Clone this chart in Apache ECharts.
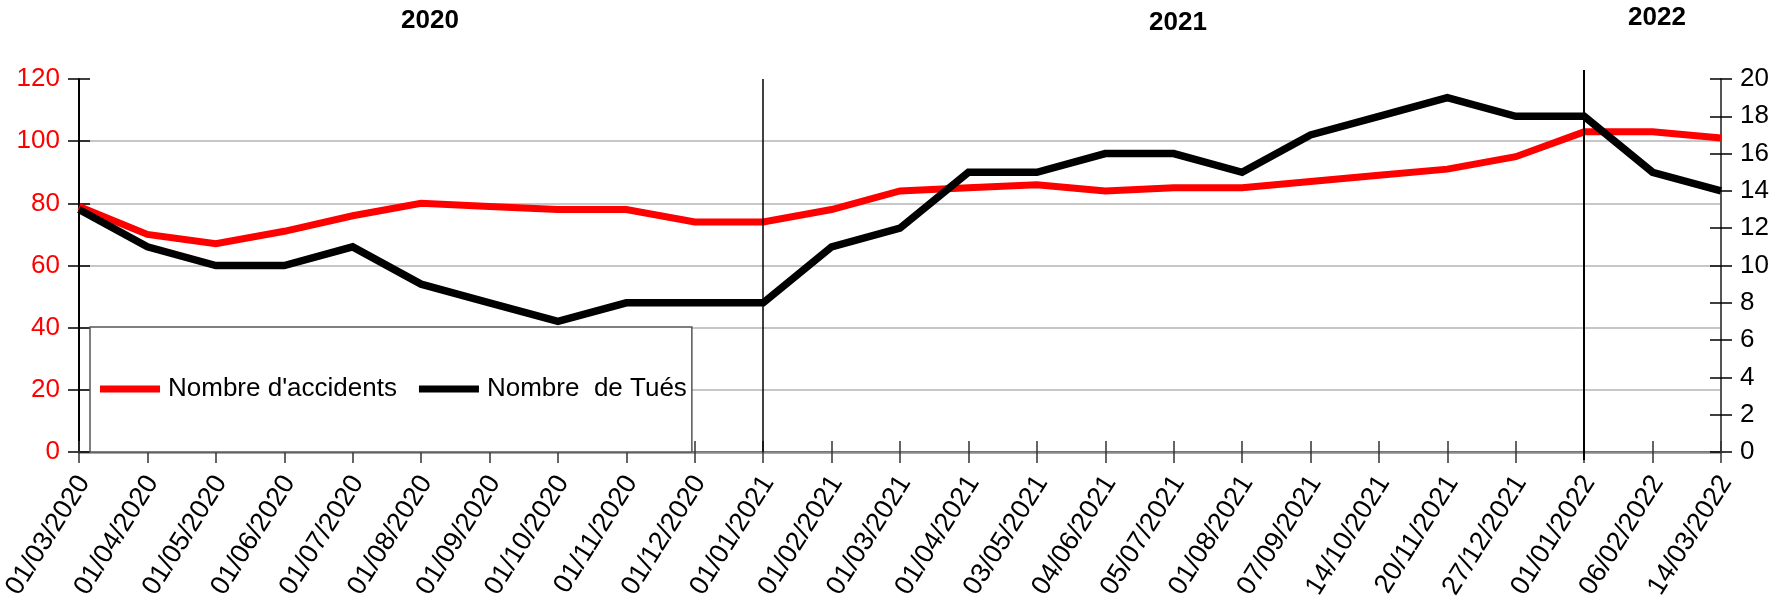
<!DOCTYPE html>
<html>
<head>
<meta charset="utf-8">
<script src="https://cdn.jsdelivr.net/npm/echarts@6/dist/echarts.min.js"></script>
<style>
html,body{margin:0;padding:0;background:#fff;}
#chart{width:1773px;height:597px;}
</style>
</head>
<body>
<div id="chart"></div>
<script>
const categories = ['01/03/2020','01/04/2020','01/05/2020','01/06/2020','01/07/2020','01/08/2020','01/09/2020','01/10/2020','01/11/2020','01/12/2020','01/01/2021','01/02/2021','01/03/2021','01/04/2021','03/05/2021','04/06/2021','05/07/2021','01/08/2021','07/09/2021','14/10/2021','20/11/2021','27/12/2021','01/01/2022','06/02/2022','14/03/2022'];
const accidents = [79,70,67,71,76,80,79,78,78,74,74,78,84,85,86,84,85,85,87,89,91,95,103,103,101];
const tues = [13,11,10,10,11,9,8,7,8,8,8,11,12,15,15,16,16,15,17,18,19,18,18,15,14];
const seriesNames = ["Nombre d'accidents", 'Nombre  de Tués'];
const yearLabels = ['2020','2021','2022'];
const yearMarkers = ['01/01/2021','01/01/2022'];

const FONT = "'Liberation Sans', Arial, sans-serif";
const chart = echarts.init(document.getElementById('chart'), null, {renderer:'canvas'});

const option = {
  animation: false,
  backgroundColor: '#fff',
  textStyle: {fontFamily: FONT},
  grid: [
    {left: 79, right: 52, top: 79, bottom: 145, containLabel: false, outerBoundsMode: 'none'},
    {left: 79, right: 52, top: 70, bottom: 137, containLabel: false, outerBoundsMode: 'none'},
    {left: 84, right: 47, top: 79, bottom: 145, containLabel: false, outerBoundsMode: 'none'}
  ],
  graphic: [
    {type:'text', left: 401, top: 8, style:{text: yearLabels[0], font: 'bold 26px ' + FONT, fill:'#000'}},
    {type:'text', left: 1149, top: 10, style:{text: yearLabels[1], font: 'bold 26px ' + FONT, fill:'#000'}},
    {type:'text', left: 1628, top: 5, style:{text: yearLabels[2], font: 'bold 26px ' + FONT, fill:'#000'}}
  ],
  legend: {
    left: 90, top: 327,
    orient: 'horizontal',
    padding: [49, 5, 50, 10],
    backgroundColor: '#fff',
    borderColor: '#555',
    borderWidth: 1.5,
    borderRadius: 0,
    itemWidth: 60, itemHeight: 7, itemGap: 22,
    icon: 'rect',
    textStyle: {fontFamily: FONT, fontSize: 26, color: '#000', lineHeight: 26, padding: [0,0,0,3]},
    data: seriesNames,
    z: 10
  },
  xAxis: [
    {
      type: 'category', data: categories, boundaryGap: false, position: 'bottom', gridIndex: 0,
      axisLine: {show: true, lineStyle: {color: '#333', width: 2}},
      axisTick: {show: true, interval: 0, inside: false, length: 11, lineStyle: {color: '#333', width: 1.5}},
      axisLabel: {show: false, interval: 0},
      splitLine: {show: false}
    },
    {
      type: 'category', data: categories, boundaryGap: false, position: 'bottom', gridIndex: 0,
      axisLine: {show: false},
      axisTick: {show: true, interval: 0, inside: true, length: 11, lineStyle: {color: '#333', width: 1.5}},
      axisLabel: {show: false, interval: 0},
      splitLine: {show: false}
    },
    {
      type: 'category', data: categories, boundaryGap: false, position: 'top', gridIndex: 0,
      axisLine: {show: true, lineStyle: {color: '#8a8a8a', width: 2.5}},
      axisTick: {show: false}, axisLabel: {show: false}, splitLine: {show: false}
    },
    {
      type: 'category', data: categories, boundaryGap: false, gridIndex: 1, show: false
    },
    {
      type: 'category', data: categories, boundaryGap: false, position: 'bottom', gridIndex: 2,
      axisLine: {show: false}, axisTick: {show: false}, splitLine: {show: false},
      axisLabel: {rotate: 58, margin: 26, fontSize: 27, color: '#000', fontFamily: FONT, interval: 0}
    }
  ],
  yAxis: [
    {
      type: 'value', min: 0, max: 120, interval: 20, position: 'left', gridIndex: 0,
      axisLine: {show: true, lineStyle: {color: '#000', width: 2}},
      axisTick: {show: true, inside: false, length: 11, lineStyle: {color: '#000', width: 1.5}},
      axisLabel: {margin: 19, fontSize: 26, color: '#ff0000', fontFamily: FONT},
      splitLine: {show: true, showMaxLine: false, lineStyle: {color: '#b4b4b4', width: 1.5}}
    },
    {
      type: 'value', min: 0, max: 20, interval: 2, position: 'right', gridIndex: 0,
      axisLine: {show: true, lineStyle: {color: '#555', width: 2}},
      axisTick: {show: true, inside: false, length: 11, lineStyle: {color: '#000', width: 1.5}},
      axisLabel: {margin: 19, fontSize: 26, color: '#000', fontFamily: FONT},
      splitLine: {show: false}
    },
    {
      type: 'value', min: 0, max: 120, interval: 20, position: 'left', gridIndex: 0,
      axisLine: {show: false},
      axisTick: {show: true, inside: true, length: 11, lineStyle: {color: '#000', width: 1.5}},
      axisLabel: {show: false}, splitLine: {show: false}
    },
    {
      type: 'value', min: 0, max: 20, interval: 2, position: 'right', gridIndex: 0,
      axisLine: {show: false},
      axisTick: {show: true, inside: true, length: 11, lineStyle: {color: '#000', width: 1.5}},
      axisLabel: {show: false}, splitLine: {show: false}
    },
    {
      type: 'value', min: 0, max: 1, gridIndex: 1, show: false
    },
    {
      type: 'value', min: 0, max: 1, gridIndex: 2, show: false
    }
  ],
  series: [
    {
      name: seriesNames[0], type: 'line', data: accidents, xAxisIndex: 0, yAxisIndex: 0,
      showSymbol: false, symbol: 'none', z: 3,
      lineStyle: {color: '#ff0000', width: 7, join: 'miter'},
      itemStyle: {color: '#ff0000'},
      markLine: {
        silent: true, symbol: ['none','none'], label: {show: false},
        data: [
          {xAxis: categories.indexOf(yearMarkers[0]), lineStyle:{color:'#000', width:1.5, type:'solid'}}
        ]
      }
    },
    {
      name: seriesNames[1], type: 'line', data: tues, xAxisIndex: 0, yAxisIndex: 1,
      showSymbol: false, symbol: 'none', z: 4,
      lineStyle: {color: '#000', width: 7.5, join: 'miter'},
      itemStyle: {color: '#000'}
    },
    {
      name: 'marker2022', type: 'line', data: [], xAxisIndex: 3, yAxisIndex: 4,
      showSymbol: false, symbol: 'none', z: 5, silent: true,
      markLine: {
        silent: true, symbol: ['none','none'], label: {show: false},
        data: [
          {xAxis: categories.indexOf(yearMarkers[1]), lineStyle:{color:'#000', width:2, type:'solid'}}
        ]
      }
    }
  ]
};
chart.setOption(option);
</script>
</body>
</html>
